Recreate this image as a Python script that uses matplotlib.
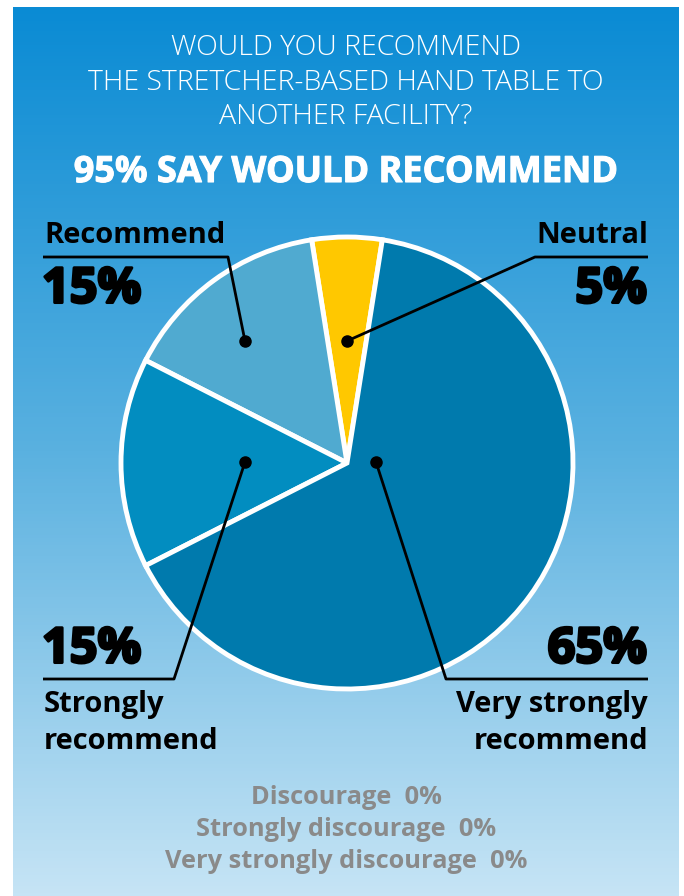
import numpy as np
import matplotlib
matplotlib.use("Agg")
import matplotlib.pyplot as plt
import matplotlib.patheffects as pe
from matplotlib.colors import LinearSegmentedColormap

# data
categories = ["Neutral", "Recommend", "Strongly\nrecommend", "Very strongly\nrecommend"]
shares = [5, 15, 15, 65]
slice_colors = ["#ffc800", "#50aad0", "#028dc0", "#007aad"]
title_lines = ["WOULD YOU RECOMMEND", "THE STRETCHER-BASED HAND TABLE TO", "ANOTHER FACILITY?"]
headline = "95% SAY WOULD RECOMMEND"
discourage_labels = ["Discourage", "Strongly discourage", "Very strongly discourage"]
discourage_values = [0, 0, 0]

W, H = 684, 896
fig = plt.figure(figsize=(W / 100, H / 100), dpi=100)
ax = fig.add_axes([0, 0, 1, 1])
ax.set_xlim(0, W)
ax.set_ylim(0, H)
ax.axis("off")

def Y(y):
    # image row -> data y
    return H - y

# background panel gradient
grad = LinearSegmentedColormap.from_list("bg", ["#0a8bd4", "#5ab1e0", "#c6e4f5"])
g = np.linspace(0, 1, 256).reshape(-1, 1)
ax.imshow(g, cmap=grad, aspect="auto", extent=[13, 679, Y(896), Y(7)], zorder=0)

bold = dict(family="Open Sans", weight="bold")
heavy = dict(family="Open Sans", weight="bold",
             path_effects=[pe.withStroke(linewidth=2.2, foreground="black")])

# title
for i, line in enumerate(title_lines):
    ax.text(346, Y(48 + i * 34.5), line, ha="center", va="center", color="white",
            fontsize=20.5, family="Open Sans", weight="light")
ax.text(346, Y(173), headline, ha="center", va="center", color="white",
        fontsize=26, family="Open Sans", weight="bold",
        path_effects=[pe.withStroke(linewidth=0.8, foreground="white")])

# pie
cx, cy, r = 347, Y(463), 226
wedges, _ = ax.pie(shares, colors=slice_colors, startangle=81, counterclock=True,
                   center=(cx, cy), radius=r, frame=True,
                   wedgeprops=dict(edgecolor="white", linewidth=3.5))
ax.set_xlim(0, W)
ax.set_ylim(0, H)
ax.axis("off")

# leader lines: (dot, elbow, end of underline)
leaders = [
    ((347, 341), (535, 257), (648, 257)),
    ((245, 341), (228, 257), (43, 257)),
    ((245, 462), (174, 679), (43, 679)),
    ((376, 462), (446, 679), (648, 679)),
]
for dot, elbow, end in leaders:
    ax.plot([dot[0], elbow[0], end[0]], [Y(dot[1]), Y(elbow[1]), Y(end[1])],
            color="black", lw=2, zorder=5, solid_capstyle="butt")
    ax.plot(dot[0], Y(dot[1]), "o", color="black", ms=8, zorder=6)

# labels
ax.text(648, Y(235), categories[0], ha="right", va="center", fontsize=21, **bold)
ax.text(647, Y(290), f"{shares[0]}%", ha="right", va="center", fontsize=35, **heavy)

ax.text(44, Y(235), categories[1], ha="left", va="center", fontsize=21, **bold)
ax.text(42, Y(290), f"{shares[1]}%", ha="left", va="center", fontsize=35, **heavy)

ax.text(42, Y(650), f"{shares[2]}%", ha="left", va="center", fontsize=35, **heavy)
ax.text(44, Y(723), categories[2], ha="left", va="center", fontsize=21,
        linespacing=1.36, **bold)

ax.text(647, Y(650), f"{shares[3]}%", ha="right", va="center", fontsize=35, **heavy)
ax.text(648, Y(723), categories[3], ha="right", va="center", fontsize=21,
        linespacing=1.36, multialignment="right", **bold)

# zero responses
for i, (lab, val) in enumerate(zip(discourage_labels, discourage_values)):
    ax.text(346, Y(798 + i * 31.5), f"{lab}  {val}%", ha="center", va="center",
            color="#8a8a8a", fontsize=18.3, **bold)

fig.savefig("out.png", dpi=100)
